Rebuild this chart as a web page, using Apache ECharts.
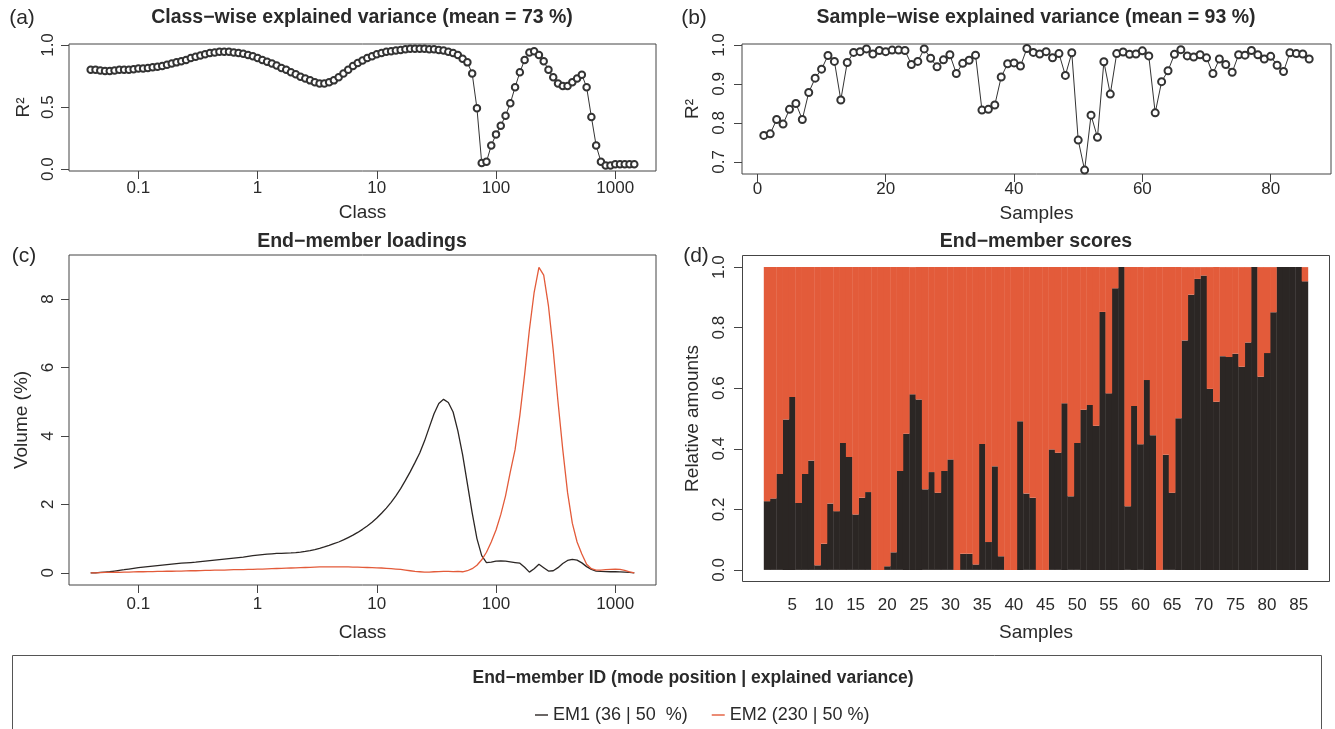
<!DOCTYPE html>
<html><head><meta charset="utf-8">
<script src="https://cdn.jsdelivr.net/npm/echarts@6/dist/echarts.min.js"></script>
<style>html,body{margin:0;padding:0;background:#fff}#c{width:1335px;height:729px}</style>
</head><body><div id="c"></div>
<script>
// ---------------- data ----------------
const classes = [0.0398,0.0437,0.0479,0.0525,0.0575,0.0631,0.0692,0.0759,0.0832,0.0912,
0.1,0.1096,0.1202,0.1318,0.1445,0.1585,0.1738,0.1905,0.2089,0.2291,0.2512,0.2754,0.302,0.3311,0.3631,0.3981,0.4365,0.4786,0.5248,0.5754,0.631,0.6918,0.7586,0.8318,0.912,
1,1.096,1.202,1.318,1.445,1.585,1.738,1.905,2.089,2.291,2.512,2.754,3.02,3.311,3.631,3.981,4.365,4.786,5.248,5.754,6.31,6.918,7.586,8.318,9.12,
10,10.96,12.02,13.18,14.45,15.85,17.38,19.05,20.89,22.91,25.12,27.54,30.2,33.11,36.31,39.81,43.65,47.86,52.48,57.54,63.1,69.18,75.86,83.18,91.2,
100,109.6,120.2,131.8,144.5,158.5,173.8,190.5,208.9,229.1,251.2,275.4,302,331.1,363.1,398.1,436.5,478.6,524.8,575.4,631,691.8,758.6,831.8,912,
1000,1096,1202,1318,1445];

const r2Class = [0.80,0.80,0.795,0.79,0.79,0.795,0.80,0.80,0.80,0.805,
0.81,0.81,0.815,0.82,0.825,0.83,0.84,0.85,0.86,0.87,
0.88,0.895,0.905,0.915,0.925,0.935,0.94,0.945,0.945,0.945,
0.94,0.935,0.93,0.92,0.91,
0.895,0.88,0.865,0.85,0.835,0.815,0.80,0.78,0.765,0.745,
0.73,0.715,0.70,0.69,0.69,0.70,0.715,0.74,0.77,0.80,
0.83,0.855,0.875,0.895,0.91,
0.925,0.935,0.945,0.95,0.955,0.96,0.965,0.97,0.97,0.97,
0.97,0.965,0.965,0.96,0.955,0.945,0.935,
0.92,0.89,0.86,0.77,0.49,0.05,0.06,0.19,0.28,0.35,
0.43,0.53,0.66,0.78,0.88,0.94,0.95,0.92,0.87,0.80,
0.74,0.69,0.67,0.67,0.70,0.73,0.76,0.66,0.42,0.19,
0.06,0.03,0.03,0.04,0.04,0.04,0.04,0.04];

const r2Sample = [0.768,0.772,0.809,0.797,0.835,0.850,0.809,0.878,0.915,0.938,
0.973,0.958,0.859,0.955,0.981,0.983,0.990,0.977,0.986,0.983,
0.987,0.987,0.986,0.950,0.958,0.990,0.966,0.944,0.962,0.975,
0.927,0.953,0.961,0.974,0.833,0.835,0.846,0.918,0.952,0.954,
0.946,0.991,0.981,0.977,0.983,0.967,0.978,0.922,0.980,0.756,
0.679,0.820,0.763,0.957,0.874,0.978,0.982,0.976,0.977,0.985,
0.972,0.826,0.906,0.934,0.976,0.988,0.972,0.969,0.975,0.967,
0.927,0.964,0.950,0.930,0.975,0.974,0.986,0.975,0.964,0.971,
0.948,0.932,0.980,0.978,0.977,0.964];

const em1Loading = [0.00,0.00,0.01,0.02,0.03,0.05,0.07,0.09,0.11,0.13,
0.15,0.165,0.18,0.195,0.21,0.225,0.24,0.255,0.27,0.28,
0.29,0.30,0.31,0.325,0.34,0.355,0.37,0.385,0.40,0.415,
0.43,0.445,0.46,0.48,0.50,
0.515,0.53,0.545,0.555,0.565,0.57,0.575,0.58,0.59,0.605,
0.625,0.65,0.68,0.715,0.755,0.80,0.85,0.90,0.96,1.03,
1.10,1.18,1.27,1.37,1.48,
1.60,1.74,1.89,2.06,2.25,2.46,2.70,2.95,3.22,3.50,
3.85,4.25,4.65,4.95,5.07,4.98,4.70,
4.15,3.45,2.60,1.75,1.00,0.50,0.30,0.31,0.34,0.35,
0.34,0.32,0.30,0.28,0.16,0.02,0.12,0.25,0.15,0.05,
0.06,0.15,0.27,0.36,0.39,0.37,0.29,0.18,0.10,0.05,
0.04,0.035,0.03,0.03,0.025,0.02,0.01,0.00];

const em2Loading = [0.00,0.00,0.005,0.01,0.01,0.015,0.015,0.02,0.02,0.025,
0.03,0.03,0.035,0.035,0.04,0.04,0.045,0.045,0.05,0.05,
0.055,0.06,0.06,0.065,0.07,0.07,0.075,0.08,0.08,0.085,
0.09,0.09,0.095,0.10,0.10,
0.105,0.11,0.115,0.12,0.125,0.13,0.135,0.14,0.145,0.15,
0.155,0.16,0.165,0.17,0.175,0.175,0.175,0.175,0.17,0.17,
0.165,0.165,0.16,0.155,0.15,
0.145,0.14,0.13,0.12,0.11,0.10,0.08,0.06,0.04,0.03,
0.02,0.02,0.03,0.035,0.04,0.04,0.035,
0.04,0.03,0.06,0.12,0.22,0.38,0.60,0.90,1.25,1.70,
2.25,2.95,3.60,4.60,5.80,7.10,8.20,8.93,8.70,7.80,
6.50,5.00,3.60,2.35,1.45,0.90,0.55,0.25,0.12,0.08,
0.08,0.09,0.10,0.11,0.10,0.07,0.03,0.00];

const em1Score = [0.227,0.236,0.317,0.497,0.571,0.221,0.317,0.361,0.015,0.086,
0.219,0.194,0.419,0.373,0.183,0.238,0.257,0,0,0.012,
0.058,0.327,0.45,0.58,0.563,0.266,0.323,0.255,0.327,0.365,
0,0.053,0.053,0.018,0.416,0.092,0.342,0.045,0,0,
0.491,0.252,0.238,0,0,0.398,0.387,0.55,0.243,0.419,
0.529,0.545,0.476,0.852,0.583,0.930,1.0,0.21,0.541,0.415,
0.627,0.445,0,0.38,0.255,0.501,0.758,0.909,0.961,0.972,
0.598,0.555,0.706,0.703,0.714,0.671,0.751,1.0,0.638,0.716,
0.851,1.0,1.0,1.0,1.0,0.953];

const em2Score = [0.773,0.764,0.683,0.503,0.429,0.779,0.683,0.639,0.985,0.914,
0.781,0.806,0.581,0.627,0.817,0.762,0.743,1,1,0.988,
0.942,0.673,0.55,0.42,0.437,0.734,0.677,0.745,0.673,0.635,
1,0.947,0.947,0.982,0.584,0.908,0.658,0.955,1,1,
0.509,0.748,0.762,1,1,0.602,0.613,0.45,0.757,0.581,
0.471,0.455,0.524,0.148,0.417,0.07,0,0.79,0.459,0.585,
0.373,0.555,1,0.62,0.745,0.499,0.242,0.091,0.039,0.028,
0.402,0.445,0.294,0.297,0.286,0.329,0.249,0,0.362,0.284,
0.149,0,0,0,0,0.047];

const sampleIds = em1Score.map((v, i) => String(i + 1));
const classTicks = [0.1, 1, 10, 100, 1000];
const sampleTicksB = [0, 20, 40, 60, 80];
const sampleLabelStep = 5;
const r2ClassTicks = [0, 0.5, 1];
const r2SampleTicks = [0.7, 0.8, 0.9, 1.0];
const volumeTicks = [0, 2, 4, 6, 8];
const scoreTicks = [0, 0.2, 0.4, 0.6, 0.8, 1.0];
const legendNames = ['EM1 (36 | 50  %)', 'EM2 (230 | 50 %)'];
const panelTitles = ['Class\u2212wise explained variance (mean = 73 %)', 'Sample\u2212wise explained variance (mean = 93 %)', 'End\u2212member loadings', 'End\u2212member scores'];
const panelTags = ['(a)', '(b)', '(c)', '(d)'];
const legendTitle = 'End\u2212member ID (mode position | explained variance)';

// ---------------- styling ----------------
const FONT = '"Liberation Sans", Arial, sans-serif';
const INK = '#2a2a2a';
const FRAME = '#444';
const C_EM1 = '#2b2624';
const C_EM2 = '#e35b3a';

function xAx(grid, type, min, max, ticks, fmt, name, gap, margin, showTick) {
  return {
    gridIndex: grid, type: type, logBase: 10, min: min, max: max,
    axisLine: {show: false, onZero: false},
    splitLine: {show: false},
    axisTick: {show: showTick, length: 8, inside: false, customValues: ticks, lineStyle: {color: FRAME, width: 1}},
    axisLabel: {customValues: ticks, formatter: fmt, margin: margin, color: INK, fontSize: 17, fontFamily: FONT},
    name: name, nameLocation: 'middle', nameGap: gap,
    nameTextStyle: {fontSize: 19, color: INK, fontFamily: FONT}
  };
}
function yAx(grid, min, max, ticks, fmt, name, gap, margin, offset) {
  return {
    gridIndex: grid, type: 'value', min: min, max: max, offset: offset || 0,
    axisLine: {show: false, onZero: false},
    splitLine: {show: false},
    axisTick: {show: true, length: 8, customValues: ticks, lineStyle: {color: FRAME, width: 1}},
    axisLabel: {customValues: ticks, formatter: fmt, rotate: 90, margin: margin, color: INK, fontSize: 17, fontFamily: FONT},
    name: name, nameLocation: 'middle', nameGap: gap,
    nameTextStyle: {fontSize: 19, color: INK, fontFamily: FONT}
  };
}
const fmtClass = v => (v < 1 ? String(+(+v).toPrecision(2)) : String(Math.round(v)));
const fmt1 = v => (+v).toFixed(1);
const fmt0 = v => String(Math.round(v));

const gridBase = {show: true, borderColor: FRAME, borderWidth: 1, backgroundColor: 'transparent', containLabel: false, outerBoundsMode: 'none'};

function txt(x, y, text, size, bold) {
  return {type: 'text', x: x, y: y, silent: true,
    style: {text: text, fill: INK, font: (bold ? 'bold ' : '') + size + 'px ' + FONT,
      align: 'center', verticalAlign: 'middle', textAlign: 'center', textVerticalAlign: 'middle'}};
}

const option = {
  animation: false,
  backgroundColor: '#fff',
  grid: [
    Object.assign({left: 69, top: 44, width: 587, height: 127}, gridBase),
    Object.assign({left: 742, top: 44, width: 589, height: 130}, gridBase),
    Object.assign({left: 69, top: 255, width: 587, height: 330}, gridBase),
    Object.assign({}, gridBase, {show: false, left: 763.8, top: 255, width: 544.4, height: 327})
  ],
  xAxis: [
    xAx(0, 'log', 0.02618, 2198, classTicks, fmtClass, 'Class', 32, 9, true),
    xAx(1, 'value', -2.4, 89.4, sampleTicksB, fmt0, 'Samples', 30, 7, true),
    xAx(2, 'log', 0.02618, 2198, classTicks, fmtClass, 'Class', 38, 11, true),
    {gridIndex: 3, type: 'category', data: sampleIds, boundaryGap: true,
      axisLine: {show: false, onZero: false}, axisTick: {show: false}, splitLine: {show: false},
      axisLabel: {interval: (idx) => (idx + 1) % sampleLabelStep === 0, margin: 15, color: INK, fontSize: 17, fontFamily: FONT},
      name: 'Samples', nameLocation: 'middle', nameGap: 41,
      nameTextStyle: {fontSize: 19, color: INK, fontFamily: FONT}}
  ],
  yAxis: [
    yAx(0, -0.015, 1.008, r2ClassTicks, fmt1, 'R\u00b2', 36, 12),
    yAx(1, 0.669, 1.0026, r2SampleTicks, fmt1, 'R\u00b2', 40, 14),
    yAx(2, -0.357, 9.29, volumeTicks, fmt0, 'Volume (%)', 38, 12),
    yAx(3, -0.04, 1.04, scoreTicks, fmt1, 'Relative amounts', 40, 14, 21.8)
  ],
  legend: {
    data: legendNames, left: 530, top: 701, icon: 'rect', itemWidth: 13, itemHeight: 1.4, itemGap: 24,
    textStyle: {fontSize: 18, color: INK, fontFamily: FONT}, selectedMode: false
  },
  series: [
    {type: 'line', xAxisIndex: 0, yAxisIndex: 0, data: classes.map((c, i) => [c, r2Class[i]]),
      symbol: 'emptyCircle', symbolSize: 6.5, lineStyle: {color: '#333', width: 1},
      itemStyle: {color: '#333', borderWidth: 1.1}, silent: true},
    {type: 'line', xAxisIndex: 1, yAxisIndex: 1, data: r2Sample.map((v, i) => [i + 1, v]),
      symbol: 'emptyCircle', symbolSize: 7, lineStyle: {color: '#333', width: 1},
      itemStyle: {color: '#333', borderWidth: 1.1}, silent: true},
    {type: 'line', name: legendNames[0], xAxisIndex: 2, yAxisIndex: 2, data: classes.map((c, i) => [c, em1Loading[i]]),
      symbol: 'none', lineStyle: {color: C_EM1, width: 1.3}, itemStyle: {color: C_EM1}, silent: true},
    {type: 'line', name: legendNames[1], xAxisIndex: 2, yAxisIndex: 2, data: classes.map((c, i) => [c, em2Loading[i]]),
      symbol: 'none', lineStyle: {color: C_EM2, width: 1.3}, itemStyle: {color: C_EM2}, silent: true},
    {type: 'bar', xAxisIndex: 3, yAxisIndex: 3, stack: 'scores', data: em1Score,
      barWidth: 6.7, barCategoryGap: 0, itemStyle: {color: C_EM1}, silent: true},
    {type: 'bar', xAxisIndex: 3, yAxisIndex: 3, stack: 'scores', data: em2Score,
      barWidth: 6.7, barCategoryGap: 0, itemStyle: {color: C_EM2}, silent: true}
  ],
  graphic: [
    txt(362, 18, panelTitles[0], 19.5, true),
    txt(1036, 18, panelTitles[1], 19.5, true),
    txt(362, 242, panelTitles[2], 19.5, true),
    txt(1036, 242, panelTitles[3], 19.5, true),
    txt(22, 18, panelTags[0], 21, false),
    txt(694, 18, panelTags[1], 21, false),
    txt(24, 256, panelTags[2], 21, false),
    txt(696, 256, panelTags[3], 21, false),
    {type: 'rect', shape: {x: 742.5, y: 255.5, width: 587, height: 326}, silent: true, z: 10,
      style: {fill: 'none', stroke: FRAME, lineWidth: 1}},
    {type: 'rect', shape: {x: 12.5, y: 655.5, width: 1309, height: 120}, silent: true,
      style: {fill: 'none', stroke: '#555', lineWidth: 1}},
    txt(693, 678, legendTitle, 17.5, true)
  ]
};
const chart = echarts.init(document.getElementById('c'), null, {renderer: 'canvas'});
chart.setOption(option);
</script></body></html>
